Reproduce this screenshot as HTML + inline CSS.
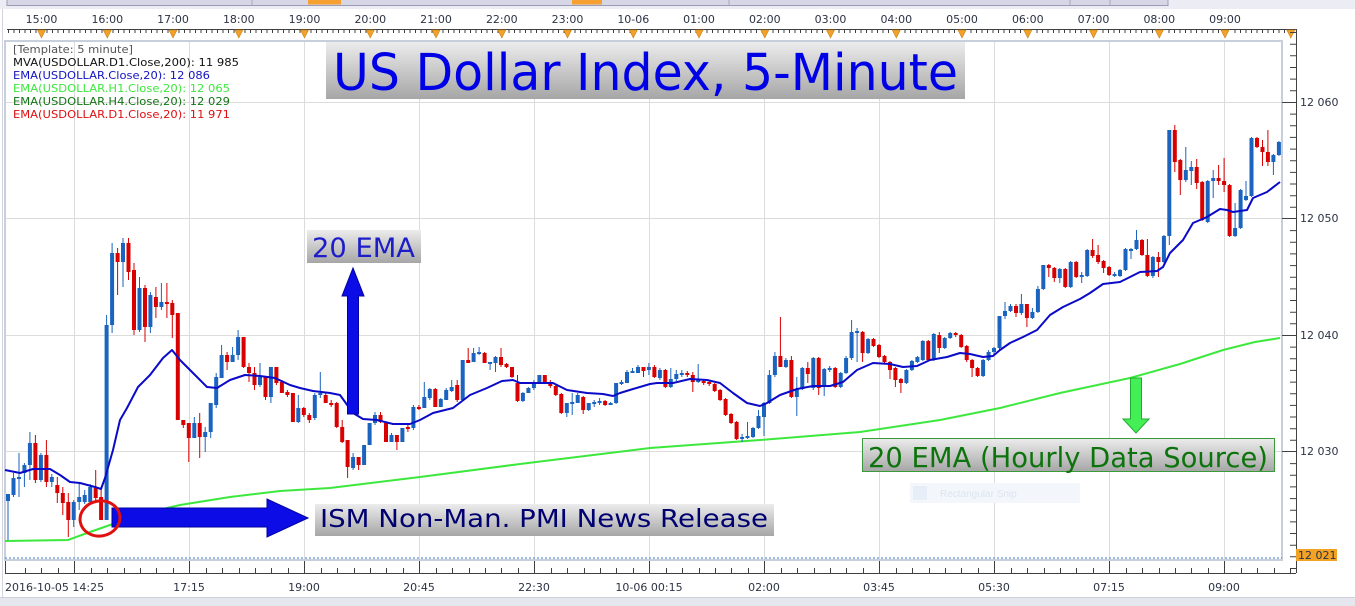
<!DOCTYPE html>
<html><head><meta charset="utf-8"><style>
html,body{margin:0;padding:0;background:#fff;}
svg{display:block;}
.ax{font-family:"DejaVu Sans","Liberation Sans",sans-serif;font-size:11px;fill:#2c3345;}
.lg{font-family:"DejaVu Sans","Liberation Sans",sans-serif;font-size:10.5px;}
.bx{font-family:"DejaVu Sans","Liberation Sans",sans-serif;}
</style></head><body>
<svg width="1355" height="606" viewBox="0 0 1355 606" xmlns="http://www.w3.org/2000/svg">
<defs>
<linearGradient id="gb" x1="0" y1="0" x2="0" y2="1"><stop offset="0" stop-color="#ececec"/><stop offset="1" stop-color="#a6a6a6"/></linearGradient>
</defs>
<rect width="1355" height="606" fill="#fff"/>
<rect x="0" y="0" width="1355" height="9" fill="#ececf4"/>
<rect x="7" y="-1" width="1161" height="6.5" fill="#d6d6e6" stroke="#9c9cb4" stroke-width="1"/>
<rect x="308" y="0" width="33" height="4.5" fill="#f5a030"/>
<rect x="572" y="0" width="30" height="4.5" fill="#f5a030"/>
<path d="M252 0V5M729 0V5M1070 0V5M1110 0V5" stroke="#a8a8bc" stroke-width="1"/>
<rect x="0" y="598" width="1355" height="8" fill="#e6e6ee"/>
<path d="M0 597.5H1355" stroke="#cfcfdc"/>
<path d="M2.5 9V597" stroke="#d4d4de"/>
<g stroke="#dcdcdc" stroke-width="1">
<path d="M5 102.5H1282M5 218.5H1282M5 335.5H1282M5 451.5H1282"/>
<path d="M74.5 41V560M189.5 41V560M304.5 41V560M419.5 41V560M534.5 41V560M649.5 41V560M764.5 41V560M879.5 41V560M994.5 41V560M1109.5 41V560M1224.5 41V560"/>
</g>
<rect x="5" y="41" width="1277" height="519" fill="none" stroke="#c6cfdb" stroke-width="2"/>
<path d="M5 558H1282" stroke="#3a78c8" stroke-width="1" stroke-dasharray="2,2"/>
<rect x="910" y="483" width="170" height="20" fill="#f3f6fb"/>
<rect x="913" y="486" width="14" height="14" fill="#e8eef8"/>
<text x="940" y="497" font-family="Liberation Sans,sans-serif" font-size="10" fill="#dde5f0">Rectangular Snip</text>
<polyline fill="none" stroke="#3de83d" stroke-width="2" points="5,541 68,540 90,532 110,525 150,512 180,505 230,497 280,491 330,488 420,477 520,464 650,448 760,440 860,432 940,420 1000,408 1060,393 1130,378 1180,364 1223,350 1255,342 1280,338"/>
<path fill="none" stroke="#1a63bf" stroke-width="1" d="M8 494V540M13.5 473V497M19 453V497M24.4 463V487M29.9 432V480M40.9 453V482M51.8 474V487M73.7 500V527M79.2 483V510M84.7 490V504M90.2 484V505M106.6 315V520M112.1 243V333M123 238V287M139.5 277V332M150.4 292V333M161.4 283V310M194.3 417V438M205.2 427V452M210.7 403V438M216.2 373V408M221.6 345V378M232.6 347V362M238.1 330V360M260 363V387M270.9 367V403M298.3 395V423M314.8 393V420M320.3 372V398M353.1 453V470M364.1 445V465M369.6 423V445M375 412V425M391.5 433V442M402.4 428V442M413.4 405V430M424.3 382V408M429.8 388V400M440.8 398V407M446.2 388V400M451.7 380V392M462.7 360V400M473.6 348V362M479.1 347V355M490.1 362V370M495.5 356V372M522.9 392V402M528.4 387V393M533.9 380V390M539.4 375V383M566.8 403V417M572.2 393V415M577.7 393V403M588.7 403V411M594.2 400V407M599.6 398V405M610.6 402V405M616.1 383V404M621.5 380V385M627 370V383M632.5 368V373M638 365V373M648.9 363V375M659.9 368V380M670.8 368V388M676.3 370V381M681.8 370V377M698.2 364V383M742.1 434V442M747.5 422V439M753 427V438M758.5 410V429M764 402V436M769.4 370V404M774.9 352V377M785.9 358V368M796.8 377V416M802.3 367V390M813.3 357V390M824.2 368V396M829.7 366V372M840.7 372V388M846.1 356V374M851.6 320V360M857.1 328V362M868.1 338V354M906.4 369V384M911.9 360V371M917.4 356V363M922.8 340V361M933.8 333V361M944.7 337V349M950.2 332V339M983.1 359V377M988.6 350V361M994 347V356M999.5 316V350M1005 302V319M1010.5 304V312M1021.4 294V315M1032.4 308V319M1037.9 286V313M1043.3 265V290M1059.8 268V283M1070.7 261V288M1081.7 272V283M1087.2 249V277M1114.6 272V277M1120 269V277M1125.5 248V271M1131 248V259M1136.5 230V250M1152.9 256V278M1163.9 235V263M1169.3 130V245M1185.8 147V182M1191.3 161V185M1207.7 180V223M1213.2 170V198M1235.1 203V237M1240.6 189V229M1246 181V201M1251.5 137V197M1273.4 154V175M1278.9 141V156"/>
<path fill="none" stroke="#1a63bf" stroke-width="4" d="M8 494V501M13.5 478V495M19 477V479M24.4 465V473M29.9 443V465M40.9 455V480M51.8 477V482M73.7 502V520M79.2 497V502M84.7 495V502M90.2 487V502M106.6 325V520M112.1 253V325M123 243V262M139.5 288V330M150.4 295V327M161.4 302V307M194.3 423V438M205.2 432V437M210.7 403V432M216.2 377V405M221.6 355V378M232.6 355V362M238.1 337V355M260 377V385M270.9 367V397M298.3 408V422M314.8 395V418M320.3 393V395M353.1 457V468M364.1 445V465M369.6 423V445M375 415V423M391.5 435V442M402.4 428V442M413.4 407V428M424.3 397V408M429.8 389V398M440.8 399V407M446.2 390V400M451.7 387V391M462.7 360V400M473.6 353V362M479.1 352V354M490.1 362V364M495.5 357V363M522.9 393V401M528.4 388V393M533.9 382V388M539.4 375V382M566.8 403V413M572.2 402V404M577.7 395V403M588.7 403V410M594.2 402V404M599.6 401V403M610.6 403V405M616.1 383V403M621.5 382V384M627 372V383M632.5 371V373M638 367V373M648.9 367V370M659.9 370V378M670.8 379V387M676.3 374V379M681.8 373V375M698.2 380V382M742.1 437V439M747.5 436V438M753 428V437M758.5 416V428M764 403V417M769.4 375V403M774.9 356V375M785.9 360V367M796.8 389V397M802.3 368V389M813.3 358V388M824.2 369V387M829.7 368V370M840.7 373V387M846.1 358V373M851.6 332V358M857.1 331V333M868.1 339V353M906.4 370V383M911.9 361V370M917.4 357V362M922.8 341V360M933.8 334V360M944.7 338V348M950.2 333V338M983.1 360V376M988.6 352V360M994 348V352M999.5 316V348M1005 311V316M1010.5 306V311M1021.4 304V313M1032.4 312V318M1037.9 289V312M1043.3 265V289M1059.8 269V278M1070.7 262V287M1081.7 275V277M1087.2 250V276M1114.6 274V276M1120 270V276M1125.5 249V270M1131 249V251M1136.5 240V249M1152.9 257V276M1163.9 236V262M1169.3 130V236M1185.8 170V180M1191.3 167V171M1207.7 181V222M1213.2 178V181M1235.1 228V236M1240.6 190V228M1246 196V200M1251.5 138V196M1273.4 155V162M1278.9 142V155"/>
<path fill="none" stroke="#d80000" stroke-width="1" d="M35.4 435V483M46.4 440V487M57.3 477V503M62.8 487V515M68.3 493V537M95.7 470V503M101.1 487V520M117.6 248V295M128.5 238V280M134 263V335M145 285V342M155.9 287V318M166.9 283V318M172.3 300V338M177.8 313V420M183.3 420V428M188.8 423V462M199.7 413V458M227.1 352V370M243.6 337V368M249 363V382M254.5 367V390M265.5 377V400M276.4 367V385M281.9 380V393M287.4 390V397M292.9 393V422M303.8 407V417M309.3 413V423M325.7 393V403M331.2 400V407M336.7 402V428M342.2 420V443M347.6 440V478M358.6 457V470M380.5 412V423M386 423V442M396.9 435V450M407.9 425V432M418.9 405V410M435.3 388V407M457.2 380V402M468.2 348V363M484.6 352V363M501 348V367M506.5 363V368M512 367V378M517.5 375V402M544.8 375V383M550.3 380V388M555.8 385V396M561.3 393V414M583.2 396V414M605.1 400V406M643.5 367V377M654.4 365V378M665.4 369V388M687.3 371V377M692.8 372V392M703.7 380V385M709.2 381V386M714.7 383V392M720.1 389V401M725.6 398V416M731.1 413V424M736.6 421V440M780.4 317V367M791.4 356V398M807.8 362V383M818.7 357V395M835.2 367V388M862.6 331V362M873.5 338V347M879 344V358M884.5 355V363M890 361V379M895.4 367V387M900.9 378V393M928.3 340V361M939.3 332V353M955.7 332V337M961.2 334V348M966.7 345V362M972.1 359V377M977.6 367V377M1016 304V317M1026.9 304V327M1048.8 264V277M1054.3 267V282M1065.3 268V288M1076.2 261V278M1092.6 239V258M1098.1 245V264M1103.6 260V273M1109.1 266V276M1142 239V256M1147.4 239V277M1158.4 252V277M1174.8 125V172M1180.3 159V195M1196.7 159V189M1202.2 181V221M1218.6 165V185M1224.1 158V192M1229.6 184V237M1257 137V148M1262.5 140V166M1267.9 130V166"/>
<path fill="none" stroke="#d80000" stroke-width="4" d="M35.4 443V480M46.4 455V482M57.3 485V493M62.8 493V503M68.3 502V520M95.7 488V498M101.1 497V520M117.6 253V262M128.5 243V272M134 270V330M145 288V327M155.9 297V307M166.9 302V304M172.3 303V315M177.8 313V420M183.3 420V425M188.8 423V438M199.7 423V437M227.1 355V362M243.6 337V367M249 367V373M254.5 373V385M265.5 377V397M276.4 367V383M281.9 382V393M287.4 392V395M292.9 393V422M303.8 408V415M309.3 415V420M325.7 395V403M331.2 403V405M336.7 403V427M342.2 427V442M347.6 440V467M358.6 457V465M380.5 415V422M386 423V442M396.9 435V442M407.9 427V429M418.9 407V409M435.3 389V407M457.2 385V400M468.2 360V363M484.6 353V363M501 357V365M506.5 364V367M512 367V377M517.5 383V401M544.8 375V382M550.3 382V386M555.8 386V395M561.3 394V413M583.2 397V410M605.1 401V405M643.5 367V371M654.4 367V377M665.4 370V387M687.3 373V375M692.8 375V382M703.7 381V383M709.2 382V384M714.7 384V391M720.1 390V400M725.6 399V415M731.1 414V423M736.6 422V439M780.4 356V367M791.4 360V397M807.8 368V374M818.7 358V388M835.2 368V387M862.6 332V353M873.5 339V346M879 345V357M884.5 356V362M890 362V370M895.4 368V380M900.9 379V383M928.3 341V360M939.3 335V348M955.7 333V335M961.2 335V347M966.7 346V360M972.1 360V368M977.6 368V376M1016 306V313M1026.9 304V318M1048.8 265V268M1054.3 268V278M1065.3 269V287M1076.2 262V277M1092.6 250V256M1098.1 255V262M1103.6 261V268M1109.1 267V275M1142 240V255M1147.4 255V276M1158.4 257V262M1174.8 130V162M1180.3 160V180M1196.7 167V183M1202.2 182V220M1218.6 178V181M1224.1 181V185M1229.6 185V236M1257 138V147M1262.5 147V152M1267.9 152V162"/>
<polyline fill="none" stroke="#0a0ac8" stroke-width="2" stroke-linejoin="round" points="5,470 20,473 33,469 50,469 60,475 70,482 80,483 95,487 101,489 105,478 113,450 120,420 127,408 138,387 150,375 163,358 172,350 180,360 193,373 207,387 217,388 230,380 245,375 260,376 275,378 290,385 300,388 313,391 330,393 340,395 353,413 363,419 377,420 393,424 410,424 420,420 433,413 453,408 470,395 487,388 502,381 513,380 520,383 537,383 553,383 567,390 587,393 603,394 613,396 620,393 633,389 650,384 657,383 673,383 690,379 707,380 720,383 733,393 747,403 760,406 767,403 780,395 797,389 813,386 830,386 843,382 857,370 873,363 890,364 903,367 917,366 930,360 947,357 960,353 970,354 983,357 993,356 1000,350 1010,343 1023,337 1037,330 1050,315 1063,307 1080,299 1090,293 1103,284 1120,282 1130,277 1140,272 1157,271 1163,267 1170,253 1183,240 1193,223 1207,217 1220,209 1227,210 1233,212 1247,210 1253,198 1267,192 1280,182"/>
<text class="lg" x="13" y="53" fill="#555" textLength="120" lengthAdjust="spacingAndGlyphs">[Template: 5 minute]</text>
<text class="lg" x="13" y="66" fill="#111" textLength="226" lengthAdjust="spacingAndGlyphs">MVA(USDOLLAR.D1.Close,200): 11 985</text>
<text class="lg" x="13" y="79" fill="#1414c4" textLength="197" lengthAdjust="spacingAndGlyphs">EMA(USDOLLAR.Close,20): 12 086</text>
<text class="lg" x="13" y="92" fill="#3ee83e" textLength="217" lengthAdjust="spacingAndGlyphs">EMA(USDOLLAR.H1.Close,20): 12 065</text>
<text class="lg" x="13" y="105" fill="#137513" textLength="217" lengthAdjust="spacingAndGlyphs">EMA(USDOLLAR.H4.Close,20): 12 029</text>
<text class="lg" x="13" y="118" fill="#dd1111" textLength="217" lengthAdjust="spacingAndGlyphs">EMA(USDOLLAR.D1.Close,20): 11 971</text>
<rect x="326" y="42" width="639" height="57" fill="url(#gb)"/>
<text class="bx" x="333" y="90" font-size="51" fill="#0000e6" textLength="625" lengthAdjust="spacingAndGlyphs">US Dollar Index, 5-Minute</text>
<rect x="307" y="230" width="114" height="33" fill="url(#gb)"/>
<text class="bx" x="312" y="257" font-size="27" fill="#1c1cc8" textLength="103" lengthAdjust="spacingAndGlyphs">20 EMA</text>
<path d="M347.5 414V296H342L353 268L364 296H358.5V414Z" fill="#0c0ce6" stroke="#0000a0" stroke-width="1"/>
<path d="M112 508H267V499L308 518L267 537V527H112Z" fill="#0c0ce6" stroke="#0000a0" stroke-width="1"/>
<ellipse cx="100" cy="518.5" rx="20" ry="17.5" fill="none" stroke="#e01010" stroke-width="3" transform="rotate(-10 100 518.5)"/>
<rect x="315" y="504" width="459" height="32" fill="url(#gb)"/>
<text class="bx" x="320" y="527" font-size="25" fill="#000070" textLength="448" lengthAdjust="spacingAndGlyphs">ISM Non-Man. PMI News Release</text>
<path d="M1130.5 378V419H1123L1136 433L1149 419H1141.5V378Z" fill="#44ee55" stroke="#22aa33" stroke-width="1"/>
<rect x="862.5" y="438.5" width="412" height="33" fill="url(#gb)" stroke="#3a9a3a" stroke-width="1"/>
<text class="bx" x="868" y="467" font-size="28" fill="#0d740d" textLength="400" lengthAdjust="spacingAndGlyphs">20 EMA (Hourly Data Source)</text>
<path d="M7 29.5H1296" stroke="#404040" stroke-width="1"/>
<path stroke="#404040" stroke-width="1" d="M8.5 29V33M14 29V33M19.5 29V33M25 29V33M30.5 29V33M36 29V33M47 29V33M52.5 29V33M58 29V33M63.5 29V33M69 29V33M74.5 29V33M80 29V33M85.5 29V33M91 29V33M96.5 29V33M102 29V33M113 29V33M118.5 29V33M124 29V33M129.5 29V33M135 29V33M140.5 29V33M146 29V33M151.5 29V33M157 29V33M162.5 29V33M168 29V33M179 29V33M184.5 29V33M190 29V33M195.5 29V33M201 29V33M206.5 29V33M212 29V33M217.5 29V33M223 29V33M228.5 29V33M234 29V33M245 29V33M250.5 29V33M256 29V33M261.5 29V33M267 29V33M272.5 29V33M278 29V33M283.5 29V33M289 29V33M294.5 29V33M300 29V33M311 29V33M316.5 29V33M322 29V33M327.5 29V33M333 29V33M338.5 29V33M344 29V33M349.5 29V33M355 29V33M360.5 29V33M366 29V33M377 29V33M382.5 29V33M388 29V33M393.5 29V33M399 29V33M404.5 29V33M410 29V33M415.5 29V33M421 29V33M426.5 29V33M432 29V33M443 29V33M448.5 29V33M454 29V33M459.5 29V33M465 29V33M470.5 29V33M476 29V33M481.5 29V33M487 29V33M492.5 29V33M498 29V33M509 29V33M514.5 29V33M520 29V33M525.5 29V33M531 29V33M536.5 29V33M542 29V33M547.5 29V33M553 29V33M558.5 29V33M564 29V33M575 29V33M580.5 29V33M586 29V33M591.5 29V33M597 29V33M602.5 29V33M608 29V33M613.5 29V33M619 29V33M624.5 29V33M630 29V33M641 29V33M646.5 29V33M652 29V33M657.5 29V33M663 29V33M668.5 29V33M674 29V33M679.5 29V33M685 29V33M690.5 29V33M696 29V33M707 29V33M712.5 29V33M718 29V33M723.5 29V33M729 29V33M734.5 29V33M740 29V33M745.5 29V33M751 29V33M756.5 29V33M762 29V33M773 29V33M778.5 29V33M784 29V33M789.5 29V33M795 29V33M800.5 29V33M806 29V33M811.5 29V33M817 29V33M822.5 29V33M828 29V33M839 29V33M844.5 29V33M850 29V33M855.5 29V33M861 29V33M866.5 29V33M872 29V33M877.5 29V33M883 29V33M888.5 29V33M894 29V33M905 29V33M910.5 29V33M916 29V33M921.5 29V33M927 29V33M932.5 29V33M938 29V33M943.5 29V33M949 29V33M954.5 29V33M960 29V33M971 29V33M976.5 29V33M982 29V33M987.5 29V33M993 29V33M998.5 29V33M1004 29V33M1009.5 29V33M1015 29V33M1020.5 29V33M1026 29V33M1037 29V33M1042.5 29V33M1048 29V33M1053.5 29V33M1059 29V33M1064.5 29V33M1070 29V33M1075.5 29V33M1081 29V33M1086.5 29V33M1092 29V33M1103 29V33M1108.5 29V33M1114 29V33M1119.5 29V33M1125 29V33M1130.5 29V33M1136 29V33M1141.5 29V33M1147 29V33M1152.5 29V33M1158 29V33M1169 29V33M1174.5 29V33M1180 29V33M1185.5 29V33M1191 29V33M1196.5 29V33M1202 29V33M1207.5 29V33M1213 29V33M1218.5 29V33M1224 29V33M1235 29V33M1240.5 29V33M1246 29V33M1251.5 29V33M1257 29V33M1262.5 29V33M1268 29V33M1273.5 29V33M1279 29V33M1284.5 29V33M1290 29V33"/>
<g fill="#f2a22a" stroke="#c98010" stroke-width="0.6">
<path d="M37.5 30H45.5L41.5 38Z"/><path d="M103.3 30H111.3L107.3 38Z"/><path d="M169 30H177L173 38Z"/><path d="M234.8 30H242.8L238.8 38Z"/><path d="M300.5 30H308.5L304.5 38Z"/><path d="M366.3 30H374.3L370.3 38Z"/><path d="M432 30H440L436 38Z"/><path d="M497.8 30H505.8L501.8 38Z"/><path d="M563.5 30H571.5L567.5 38Z"/><path d="M629.3 30H637.3L633.3 38Z"/><path d="M695 30H703L699 38Z"/><path d="M760.8 30H768.8L764.8 38Z"/><path d="M826.5 30H834.5L830.5 38Z"/><path d="M892.3 30H900.3L896.3 38Z"/><path d="M958 30H966L962 38Z"/><path d="M1023.8 30H1031.8L1027.8 38Z"/><path d="M1089.5 30H1097.5L1093.5 38Z"/><path d="M1155.3 30H1163.3L1159.3 38Z"/><path d="M1221 30H1229L1225 38Z"/><path d="M1286.8 30H1294.8L1290.8 38Z"/>
</g>
<g class="ax" text-anchor="middle">
<text x="41.5" y="23">15:00</text><text x="107.3" y="23">16:00</text><text x="173" y="23">17:00</text><text x="238.8" y="23">18:00</text><text x="304.5" y="23">19:00</text><text x="370.3" y="23">20:00</text><text x="436" y="23">21:00</text><text x="501.8" y="23">22:00</text><text x="567.5" y="23">23:00</text><text x="633.3" y="23">10-06</text><text x="699" y="23">01:00</text><text x="764.8" y="23">02:00</text><text x="830.5" y="23">03:00</text><text x="896.3" y="23">04:00</text><text x="962" y="23">05:00</text><text x="1027.8" y="23">06:00</text><text x="1093.5" y="23">07:00</text><text x="1159.3" y="23">08:00</text><text x="1225" y="23">09:00</text>
</g>
<path d="M1296.5 29V573" stroke="#404040" stroke-width="1"/>
<path stroke="#404040" stroke-width="1" d="M1290 32.5H1296M1290 44.2H1296M1290 55.8H1296M1290 67.5H1296M1290 79.1H1296M1290 90.8H1296M1282 102.5H1296M1290 114.1H1296M1290 125.8H1296M1290 137.4H1296M1290 149.1H1296M1290 160.7H1296M1290 172.4H1296M1290 184H1296M1290 195.7H1296M1290 207.3H1296M1282 218.5H1296M1290 230.6H1296M1290 242.3H1296M1290 253.9H1296M1290 265.6H1296M1290 277.2H1296M1290 288.9H1296M1290 300.5H1296M1290 312.2H1296M1290 323.8H1296M1282 335.5H1296M1290 347.1H1296M1290 358.8H1296M1290 370.4H1296M1290 382.1H1296M1290 393.7H1296M1290 405.4H1296M1290 417H1296M1290 428.7H1296M1290 440.3H1296M1282 451.5H1296M1290 463.6H1296M1290 475.3H1296M1290 486.9H1296M1290 498.6H1296M1290 510.2H1296M1290 521.9H1296M1290 533.5H1296M1290 545.2H1296M1290 556.8H1296M1290 568.5H1296"/>
<g class="ax">
<text x="1300" y="106">12 060</text><text x="1300" y="222">12 050</text><text x="1300" y="339">12 040</text><text x="1300" y="455">12 030</text>
</g>
<rect x="1296" y="549" width="41" height="12" fill="#f2a224"/>
<text class="ax" x="1298" y="559" fill="#3a2a00" font-size="10.5">12 021</text>
<path d="M5 573.5H1296" stroke="#404040" stroke-width="1"/>
<path stroke="#404040" stroke-width="1" d="M5.5 561V573M74.5 561V573M189.5 561V573M304.5 561V573M419.5 561V573M534.5 561V573M649.5 561V573M764.5 561V573M879.5 561V573M994.5 561V573M1109.5 561V573M1224.5 561V573"/>
<path stroke="#404040" stroke-width="1" d="M25.5 568V573M41.5 568V573M58.5 568V573M91.5 568V573M107.5 568V573M124.5 568V573M140.5 568V573M156.5 568V573M173.5 568V573M206.5 568V573M222.5 568V573M239.5 568V573M255.5 568V573M271.5 568V573M288.5 568V573M321.5 568V573M337.5 568V573M354.5 568V573M370.5 568V573M386.5 568V573M403.5 568V573M436.5 568V573M452.5 568V573M469.5 568V573M485.5 568V573M501.5 568V573M518.5 568V573M551.5 568V573M567.5 568V573M584.5 568V573M600.5 568V573M616.5 568V573M633.5 568V573M666.5 568V573M682.5 568V573M699.5 568V573M715.5 568V573M731.5 568V573M748.5 568V573M781.5 568V573M797.5 568V573M814.5 568V573M830.5 568V573M846.5 568V573M863.5 568V573M896.5 568V573M912.5 568V573M929.5 568V573M945.5 568V573M961.5 568V573M978.5 568V573M1011.5 568V573M1027.5 568V573M1044.5 568V573M1060.5 568V573M1076.5 568V573M1093.5 568V573M1126.5 568V573M1142.5 568V573M1159.5 568V573M1175.5 568V573M1191.5 568V573M1208.5 568V573M1241.5 568V573M1257.5 568V573M1274.5 568V573M1290.5 568V573"/>
<text class="ax" x="5" y="591">2016-10-05 14:25</text>
<g class="ax" text-anchor="middle">
<text x="189" y="591">17:15</text><text x="304" y="591">19:00</text><text x="419" y="591">20:45</text><text x="534" y="591">22:30</text><text x="649" y="591">10-06 00:15</text><text x="764" y="591">02:00</text><text x="879" y="591">03:45</text><text x="994" y="591">05:30</text><text x="1109" y="591">07:15</text><text x="1224" y="591">09:00</text>
</g>
</svg>
</body></html>
